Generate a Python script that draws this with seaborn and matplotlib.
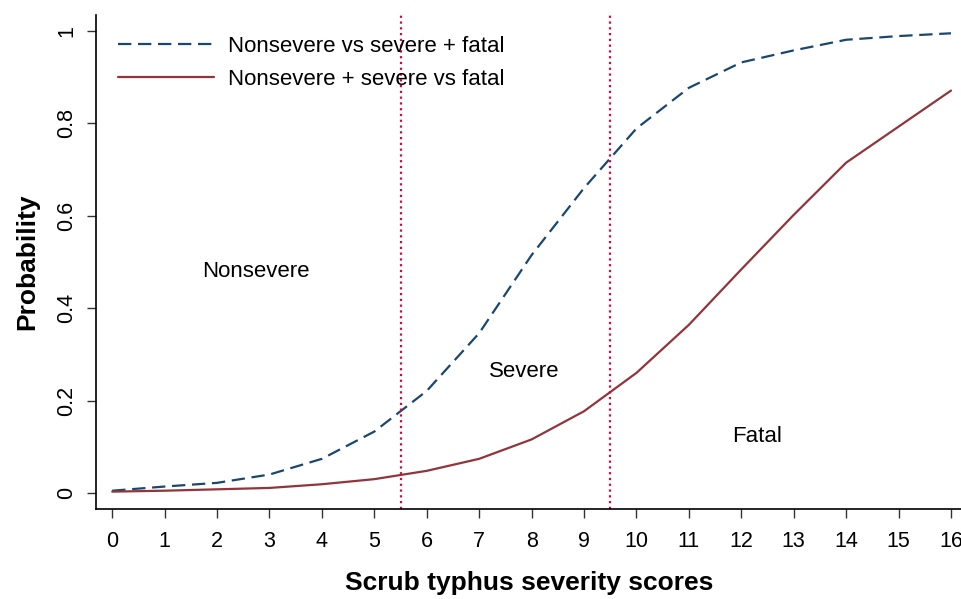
import pandas as pd
import matplotlib.pyplot as plt
import seaborn as sns

# predicted probabilities by severity score
scores = list(range(17))
p_nonsev_vs_sevfatal = [0.005, 0.014, 0.022, 0.040, 0.074, 0.133, 0.221, 0.346, 0.515,
                        0.660, 0.789, 0.877, 0.932, 0.958, 0.981, 0.989, 0.995]
p_nonsevsev_vs_fatal = [0.003, 0.005, 0.008, 0.011, 0.019, 0.030, 0.048, 0.074, 0.116,
                        0.177, 0.260, 0.364, 0.484, 0.602, 0.715, 0.793, 0.871]
series_names = ["Nonsevere vs severe + fatal", "Nonsevere + severe vs fatal"]
cutoffs = [5.5, 9.5]
region_labels = ["Nonsevere", "Severe", "Fatal"]
region_x = [2.75, 7.85, 12.3]
region_y = [0.48, 0.264, 0.123]

df = pd.DataFrame({
    "score": scores * 2,
    "prob": p_nonsev_vs_sevfatal + p_nonsevsev_vs_fatal,
    "model": [series_names[0]] * 17 + [series_names[1]] * 17,
})

sns.set_style("ticks")
plt.rcParams["font.family"] = ["Liberation Sans", "DejaVu Sans"]
plt.rcParams["text.color"] = "black"
plt.rcParams["axes.labelcolor"] = "black"
plt.rcParams["xtick.color"] = "#333333"
plt.rcParams["ytick.color"] = "#333333"
plt.rcParams["xtick.labelcolor"] = "black"
plt.rcParams["ytick.labelcolor"] = "black"

fig = plt.figure(figsize=(9.62, 5.99), dpi=100)
ax = fig.add_axes([96 / 962, 1 - 509 / 599, 1 - 96 / 962, (509 - 15) / 599])

sns.lineplot(
    data=df, x="score", y="prob",
    hue="model", style="model",
    palette={series_names[0]: "#1a476f", series_names[1]: "#90353b"},
    dashes={series_names[0]: (6, 3), series_names[1]: ""},
    linewidth=1.6, ax=ax,
)

for c in cutoffs:
    ax.axvline(c, color="#d7063d", linestyle=(0, (1, 1.6)), linewidth=1.6)

for lab, x, y in zip(region_labels, region_x, region_y):
    ax.text(x, y, lab, fontsize=16, ha="center", va="center", color="black")

ax.set_xlim(-0.309, 16.21)
ax.set_ylim(-0.0346, 1.0346)
ax.set_xticks(scores)
ax.set_yticks([0, 0.2, 0.4, 0.6, 0.8, 1])
ax.set_yticklabels(["0", "0.2", "0.4", "0.6", "0.8", "1"], rotation=90, va="center")
ax.tick_params(axis="both", labelsize=15.5, length=6.5, width=1)
ax.tick_params(axis="x", pad=9)
ax.tick_params(axis="y", pad=7)
for s in ["top", "right"]:
    ax.spines[s].set_visible(False)
for s in ["left", "bottom"]:
    ax.spines[s].set_color("black")
    ax.spines[s].set_linewidth(1.2)

ax.set_xlabel("Scrub typhus severity scores", fontsize=19, fontweight="bold", labelpad=14)
ax.set_ylabel("Probability", fontsize=19, fontweight="bold", labelpad=12)

handles, labels = ax.get_legend_handles_labels()
ax.legend(handles, labels, loc="upper left", bbox_to_anchor=(0.01, 0.985),
          frameon=False, fontsize=16, handlelength=4.3, handletextpad=0.65,
          labelspacing=0.55, borderpad=0.3, borderaxespad=0.3)

plt.savefig("out.png", dpi=100)
plt.close()
